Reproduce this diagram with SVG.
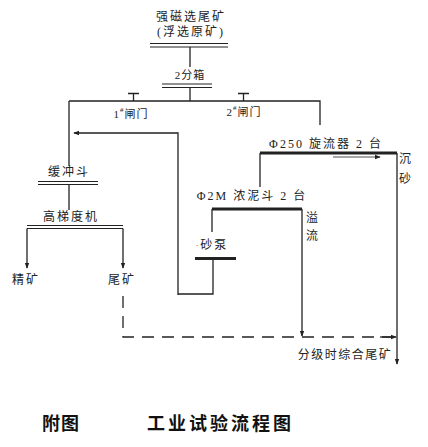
<svg xmlns="http://www.w3.org/2000/svg" width="428" height="447" viewBox="0 0 428 447">
<defs>
<marker id="ah" viewBox="0 0 8 8" refX="7" refY="4" markerWidth="6" markerHeight="6" orient="auto" markerUnits="userSpaceOnUse">
<path d="M0,1 L8,4 L0,7 Z" fill="#222"/>
</marker>
</defs>
<style>
.t{font-family:"Liberation Serif","Noto Sans CJK SC",serif;font-size:12px;fill:#222;text-anchor:middle;dominant-baseline:central;letter-spacing:2px}
.s{font-size:11px;letter-spacing:1px}
.v{letter-spacing:0}
.ln{fill:none;stroke:#222;stroke-width:1.3}
.bar{fill:none;stroke:#222;stroke-width:3}
.dbl{fill:none;stroke:#222;stroke-width:1.2}
.ds{fill:none;stroke:#222;stroke-width:1.3;stroke-dasharray:12 8}
.ti{font-family:"Noto Sans CJK SC","Liberation Sans",sans-serif;font-weight:bold;font-size:18px;fill:#111;dominant-baseline:central}
</style>
<rect width="428" height="447" fill="#fff"/>
<g id="feed">
<text class="t" x="191" y="17">强磁选尾矿</text>
<text class="t" x="191" y="32">(浮选原矿)</text>
<path class="dbl" d="M150,43.5H228M150,47H228"/>
</g>
<g id="distributor">
<text class="t s" x="190" y="75">2分箱</text>
<path class="dbl" d="M162,84H212M162,87.5H212"/>
</g>
<g id="gate1">
<path class="ln" d="M128,93.5H139M133.5,93.5V101"/>
<text class="t s" x="131" y="114">1<tspan font-size="7" dy="-4">#</tspan><tspan dy="4">闸门</tspan></text>
</g>
<g id="gate2">
<path class="ln" d="M238,93.5H249M243.5,93.5V101"/>
<text class="t s" x="244" y="112">2<tspan font-size="7" dy="-4">#</tspan><tspan dy="4">闸门</tspan></text>
</g>
<g id="buffer">
<text class="t" x="69" y="172">缓冲斗</text>
<path class="dbl" d="M38,181.5H98M38,184.5H98"/>
</g>
<g id="hgms">
<text class="t" x="71" y="217">高梯度机</text>
<path class="dbl" d="M27,225.5H123M27,228.5H123"/>
</g>
<g id="conc"><text class="t" x="26" y="280">精矿</text></g>
<g id="tail"><text class="t" x="122" y="280">尾矿</text></g>
<g id="cyclone">
<text class="t" x="326" y="144">Φ250 旋流器 2 台</text>
<path class="bar" d="M260,153H397"/>
</g>
<g id="underflow">
<text class="t v" x="405" y="159">沉</text>
<text class="t v" x="405" y="179">砂</text>
</g>
<g id="thickener">
<text class="t" x="252" y="196">Φ2M 浓泥斗 2 台</text>
<path class="bar" d="M212,209H302"/>
</g>
<g id="overflow">
<text class="t v" x="312" y="218">溢</text>
<text class="t v" x="312" y="236">流</text>
</g>
<g id="pump">
<text class="t" x="212" y="245"><tspan font-size="8">·</tspan>砂泵</text>
<path class="bar" d="M195,258.5H236"/>
</g>
<g id="final"><text class="t" x="345" y="355" style="letter-spacing:1.5px">分级时综合尾矿</text></g>
<g id="connectors">
<path class="ln" d="M190,47V67"/>
<path class="ln" d="M190,87.5V101"/>
<path class="ln" d="M69,101H320V125"/>
<path class="ln" d="M69,101V166"/>
<path class="ln" d="M69,184.5V210"/>
<path class="ln" d="M178,295V133H74" marker-end="url(#ah)"/>
<path class="ln" d="M213,260V294H178"/>
<path class="ln" d="M27,228.5V268" marker-end="url(#ah)"/>
<path class="ln" d="M123,228.5V268" marker-end="url(#ah)"/>
<path class="ln" d="M260,153V187"/>
<path class="ln" d="M212,209V232"/>
<path class="ln" d="M302,209V336" marker-end="url(#ah)"/>
<path class="ln" d="M397,153V364" marker-end="url(#ah)"/>
<path class="ln" d="M333,157H380" marker-end="url(#ah)" style="stroke-width:0.8"/>
<path class="ds" d="M123,296V337H396"/>
<path class="ln" d="M380,337H396" marker-end="url(#ah)"/>
</g>
<g id="caption">
<text class="ti" x="42" y="422" style="letter-spacing:1px">附图</text>
<text class="ti" x="147" y="422" style="letter-spacing:3px">工业试验流程图</text>
</g>
</svg>
